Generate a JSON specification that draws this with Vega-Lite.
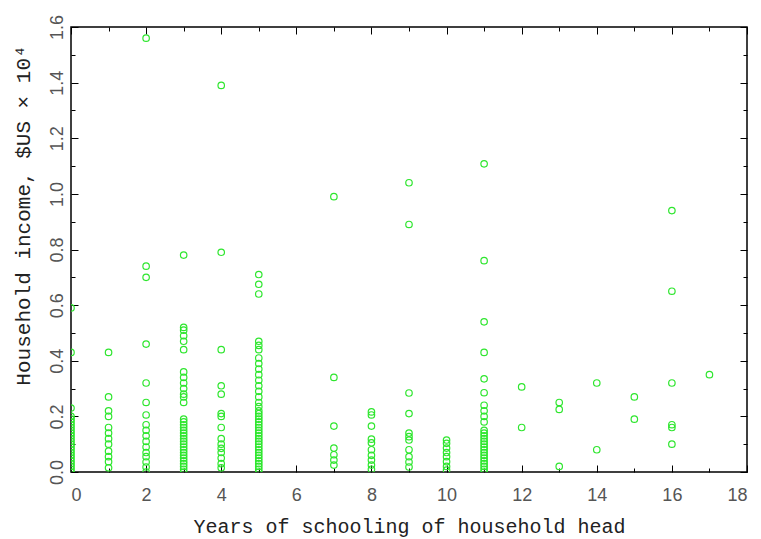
{
  "$schema": "https://vega.github.io/schema/vega-lite/v6.json",
  "width": 676,
  "height": 445,
  "autosize": {"type": "none"},
  "padding": {"left": 71, "top": 27, "right": 14, "bottom": 67},
  "background": "white",
  "config": {
    "view": {"stroke": "black", "strokeWidth": 1.5},
    "axis": {"grid": false, "domain": false, "tickColor": "black", "tickWidth": 1}
  },
  "data": {"values": [
    {"x":0,"y":0.59},{"x":0,"y":0.43},{"x":0,"y":0.23},{"x":0,"y":0.2},{"x":0,"y":0.19},{"x":0,"y":0.18},{"x":0,"y":0.17},{"x":0,"y":0.16},{"x":0,"y":0.15},{"x":0,"y":0.14},{"x":0,"y":0.13},{"x":0,"y":0.12},{"x":0,"y":0.11},{"x":0,"y":0.10},{"x":0,"y":0.09},{"x":0,"y":0.08},{"x":0,"y":0.07},{"x":0,"y":0.06},{"x":0,"y":0.05},{"x":0,"y":0.04},{"x":0,"y":0.03},{"x":0,"y":0.02},{"x":0,"y":0.01},{"x":0,"y":0.0},
    {"x":1,"y":0.43},{"x":1,"y":0.27},{"x":1,"y":0.22},{"x":1,"y":0.2},{"x":1,"y":0.16},{"x":1,"y":0.14},{"x":1,"y":0.12},{"x":1,"y":0.1},{"x":1,"y":0.075},{"x":1,"y":0.055},{"x":1,"y":0.037},{"x":1,"y":0.015},
    {"x":2,"y":1.56},{"x":2,"y":0.74},{"x":2,"y":0.70},{"x":2,"y":0.46},{"x":2,"y":0.32},{"x":2,"y":0.25},{"x":2,"y":0.205},{"x":2,"y":0.17},{"x":2,"y":0.15},{"x":2,"y":0.13},{"x":2,"y":0.11},{"x":2,"y":0.09},{"x":2,"y":0.07},{"x":2,"y":0.055},{"x":2,"y":0.036},{"x":2,"y":0.018},{"x":2,"y":0.0},
    {"x":3,"y":0.78},{"x":3,"y":0.52},{"x":3,"y":0.51},{"x":3,"y":0.49},{"x":3,"y":0.47},{"x":3,"y":0.44},{"x":3,"y":0.36},{"x":3,"y":0.34},{"x":3,"y":0.32},{"x":3,"y":0.30},{"x":3,"y":0.28},{"x":3,"y":0.27},{"x":3,"y":0.25},{"x":3,"y":0.19},{"x":3,"y":0.18},{"x":3,"y":0.17},{"x":3,"y":0.16},{"x":3,"y":0.15},{"x":3,"y":0.14},{"x":3,"y":0.13},{"x":3,"y":0.12},{"x":3,"y":0.11},{"x":3,"y":0.10},{"x":3,"y":0.09},{"x":3,"y":0.08},{"x":3,"y":0.07},{"x":3,"y":0.06},{"x":3,"y":0.05},{"x":3,"y":0.04},{"x":3,"y":0.03},{"x":3,"y":0.02},{"x":3,"y":0.01},{"x":3,"y":0.0},
    {"x":4,"y":1.39},{"x":4,"y":0.79},{"x":4,"y":0.44},{"x":4,"y":0.31},{"x":4,"y":0.28},{"x":4,"y":0.21},{"x":4,"y":0.2},{"x":4,"y":0.16},{"x":4,"y":0.12},{"x":4,"y":0.10},{"x":4,"y":0.085},{"x":4,"y":0.07},{"x":4,"y":0.05},{"x":4,"y":0.03},{"x":4,"y":0.015},
    {"x":5,"y":0.71},{"x":5,"y":0.675},{"x":5,"y":0.64},{"x":5,"y":0.47},{"x":5,"y":0.455},{"x":5,"y":0.44},{"x":5,"y":0.41},{"x":5,"y":0.39},{"x":5,"y":0.37},{"x":5,"y":0.35},{"x":5,"y":0.33},{"x":5,"y":0.31},{"x":5,"y":0.29},{"x":5,"y":0.27},{"x":5,"y":0.25},{"x":5,"y":0.235},{"x":5,"y":0.22},{"x":5,"y":0.21},{"x":5,"y":0.2},{"x":5,"y":0.19},{"x":5,"y":0.18},{"x":5,"y":0.17},{"x":5,"y":0.16},{"x":5,"y":0.15},{"x":5,"y":0.14},{"x":5,"y":0.13},{"x":5,"y":0.12},{"x":5,"y":0.11},{"x":5,"y":0.10},{"x":5,"y":0.09},{"x":5,"y":0.08},{"x":5,"y":0.07},{"x":5,"y":0.06},{"x":5,"y":0.05},{"x":5,"y":0.04},{"x":5,"y":0.03},{"x":5,"y":0.02},{"x":5,"y":0.01},{"x":5,"y":0.0},
    {"x":7,"y":0.99},{"x":7,"y":0.34},{"x":7,"y":0.165},{"x":7,"y":0.086},{"x":7,"y":0.062},{"x":7,"y":0.043},{"x":7,"y":0.025},
    {"x":8,"y":0.216},{"x":8,"y":0.205},{"x":8,"y":0.165},{"x":8,"y":0.118},{"x":8,"y":0.105},{"x":8,"y":0.08},{"x":8,"y":0.06},{"x":8,"y":0.043},{"x":8,"y":0.025},{"x":8,"y":0.01},
    {"x":9,"y":1.04},{"x":9,"y":0.89},{"x":9,"y":0.284},{"x":9,"y":0.21},{"x":9,"y":0.14},{"x":9,"y":0.127},{"x":9,"y":0.115},{"x":9,"y":0.08},{"x":9,"y":0.055},{"x":9,"y":0.036},{"x":9,"y":0.018},
    {"x":10,"y":0.115},{"x":10,"y":0.103},{"x":10,"y":0.086},{"x":10,"y":0.07},{"x":10,"y":0.055},{"x":10,"y":0.037},{"x":10,"y":0.02},{"x":10,"y":0.007},
    {"x":11,"y":1.108},{"x":11,"y":0.76},{"x":11,"y":0.54},{"x":11,"y":0.43},{"x":11,"y":0.335},{"x":11,"y":0.285},{"x":11,"y":0.24},{"x":11,"y":0.22},{"x":11,"y":0.2},{"x":11,"y":0.18},{"x":11,"y":0.15},{"x":11,"y":0.14},{"x":11,"y":0.13},{"x":11,"y":0.12},{"x":11,"y":0.11},{"x":11,"y":0.10},{"x":11,"y":0.09},{"x":11,"y":0.08},{"x":11,"y":0.07},{"x":11,"y":0.06},{"x":11,"y":0.05},{"x":11,"y":0.04},{"x":11,"y":0.03},{"x":11,"y":0.02},{"x":11,"y":0.01},{"x":11,"y":0.0},
    {"x":12,"y":0.306},{"x":12,"y":0.16},
    {"x":13,"y":0.25},{"x":13,"y":0.225},{"x":13,"y":0.02},
    {"x":14,"y":0.32},{"x":14,"y":0.08},
    {"x":15,"y":0.27},{"x":15,"y":0.19},
    {"x":16,"y":0.94},{"x":16,"y":0.65},{"x":16,"y":0.32},{"x":16,"y":0.17},{"x":16,"y":0.16},{"x":16,"y":0.10},
    {"x":17,"y":0.35}
  ]},
  "layer": [
    {
      "mark": {"type": "point", "shape": "circle", "filled": false, "clip": true, "color": "#2ee62e", "size": 42, "strokeWidth": 1.2, "opacity": 1},
      "encoding": {
        "x": {"field": "x", "type": "quantitative", "scale": {"domain": [0, 18], "nice": false, "zero": false},
          "axis": {"orient": "bottom", "title": "Years of schooling of household head",
            "values": [0,1,2,3,4,5,6,7,8,9,10,11,12,13,14,15,16,17,18],
            "tickSize": {"condition": {"test": "datum.value % 2 === 0", "value": -7}, "value": -4},
            "labelExpr": "datum.value % 2 === 0 ? datum.label : ''",
            "labelFont": "Liberation Sans", "labelFontSize": 18, "labelColor": "#555", "labelPadding": 21,
            "titleFont": "Liberation Mono", "titleFontSize": 20, "titleFontWeight": "normal", "titleColor": "#222", "titlePadding": 12}},
        "y": {"field": "y", "type": "quantitative", "scale": {"domain": [0, 1.6], "nice": false, "zero": false},
          "axis": {"orient": "left", "title": "Household income,  $US  ×  10⁴",
            "values": [0,0.1,0.2,0.3,0.4,0.5,0.6,0.7,0.8,0.9,1.0,1.1,1.2,1.3,1.4,1.5,1.6],
            "tickSize": {"condition": {"test": "round(datum.value*10) % 2 === 0", "value": -7}, "value": -4},
            "labelExpr": "round(datum.value*10) % 2 === 0 ? format(datum.value, '.1f') : ''",
            "labelAngle": 270, "labelAlign": "center", "labelBaseline": "bottom",
            "labelFont": "Liberation Sans", "labelFontSize": 18, "labelColor": "#555", "labelPadding": 12,
            "titleFont": "Liberation Mono", "titleFontSize": 21, "titleFontWeight": "normal", "titleColor": "#222", "titlePadding": 15, "titleY": 188}}
      }
    },
    {
      "mark": {"type": "point", "opacity": 0},
      "encoding": {
        "x": {"field": "x", "type": "quantitative", "scale": {"domain": [0, 18], "nice": false, "zero": false},
          "axis": {"orient": "top", "title": null, "labels": false,
            "values": [0,1,2,3,4,5,6,7,8,9,10,11,12,13,14,15,16,17,18],
            "tickSize": {"condition": {"test": "datum.value % 2 === 0", "value": -7}, "value": -4}}},
        "y": {"field": "y", "type": "quantitative", "scale": {"domain": [0, 1.6], "nice": false, "zero": false},
          "axis": {"orient": "right", "title": null, "labels": false,
            "values": [0,0.1,0.2,0.3,0.4,0.5,0.6,0.7,0.8,0.9,1.0,1.1,1.2,1.3,1.4,1.5,1.6],
            "tickSize": {"condition": {"test": "round(datum.value*10) % 2 === 0", "value": -7}, "value": -4}}}
      }
    }
  ],
  "resolve": {"axis": {"x": "independent", "y": "independent"}}
}
